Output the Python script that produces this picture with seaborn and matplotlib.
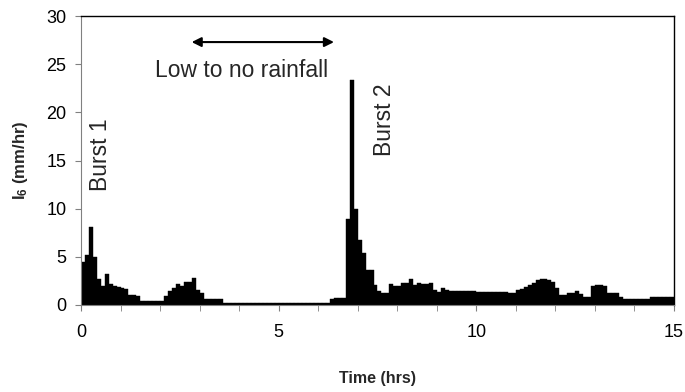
import numpy as np
import pandas as pd
import matplotlib
matplotlib.use("Agg")
import matplotlib.pyplot as plt
import seaborn as sns

# 6-minute (0.1 hr) rainfall intensity
bin_start_hrs = [round(i * 0.1, 1) for i in range(150)]
intensity = [
    4.5, 5.2, 8.1, 5.0, 2.7, 2.0, 3.2, 2.2, 2.0, 1.9,          # 0.0 - 0.9
    1.8, 1.7, 1.0, 1.0, 0.9, 0.45, 0.4, 0.4, 0.4, 0.4,         # 1.0 - 1.9
    0.4, 0.9, 1.4, 1.8, 2.2, 2.0, 2.4, 2.4, 2.8, 1.6,          # 2.0 - 2.9
    1.2, 0.6, 0.6, 0.6, 0.6, 0.6, 0.2, 0.2, 0.2, 0.2,          # 3.0 - 3.9
    0.2, 0.2, 0.2, 0.2, 0.2, 0.2, 0.2, 0.2, 0.2, 0.2,          # 4.0 - 4.9
    0.2, 0.2, 0.2, 0.2, 0.2, 0.2, 0.2, 0.2, 0.2, 0.2,          # 5.0 - 5.9
    0.2, 0.2, 0.2, 0.6, 0.7, 0.7, 0.7, 8.9, 23.4, 10.0,        # 6.0 - 6.9
    6.7, 5.4, 3.6, 3.6, 2.1, 1.5, 1.2, 1.2, 2.2, 2.0,          # 7.0 - 7.9
    2.0, 2.25, 2.25, 2.66, 2.08, 2.3, 2.15, 2.15, 2.25, 1.56,  # 8.0 - 8.9
    1.38, 1.73, 1.56, 1.5, 1.5, 1.5, 1.5, 1.5, 1.5, 1.5,       # 9.0 - 9.9
    1.3, 1.3, 1.3, 1.3, 1.3, 1.3, 1.3, 1.3, 1.2, 1.2,          # 10.0 - 10.9
    1.6, 1.7, 1.9, 2.1, 2.3, 2.6, 2.66, 2.66, 2.6, 2.4,        # 11.0 - 11.9
    1.73, 1.0, 1.0, 1.2, 1.2, 1.5, 1.1, 0.87, 0.87, 2.0,       # 12.0 - 12.9
    2.1, 2.1, 2.0, 1.2, 1.2, 1.2, 0.8, 0.66, 0.66, 0.66,       # 13.0 - 13.9
    0.66, 0.66, 0.66, 0.66, 0.87, 0.87, 0.87, 0.87, 0.87, 0.87 # 14.0 - 14.9
]

df = pd.DataFrame({"t": np.array(bin_start_hrs) + 0.05, "I6": intensity})

sns.set_style("ticks")
plt.rcParams["font.family"] = ["Liberation Sans", "DejaVu Sans"]
plt.rcParams["mathtext.fontset"] = "custom"
plt.rcParams["mathtext.bf"] = "Liberation Sans:bold"
plt.rcParams["mathtext.rm"] = "Liberation Sans"

fig = plt.figure(figsize=(6.85, 3.92), dpi=100)
ax = fig.add_axes([0.1182, 0.222, 0.8657, 0.737])

sns.histplot(data=df, x="t", weights="I6", binwidth=0.1, binrange=(0, 15),
             color="black", edgecolor="black", linewidth=0.3, alpha=1, ax=ax)

ax.set_xlim(0, 15)
ax.set_ylim(0, 30)
ax.set_xticks([0, 5, 10, 15])
ax.set_xticks(np.arange(0, 16, 1), minor=True)
ax.set_yticks(np.arange(0, 31, 5))
ax.tick_params(axis="both", which="both", direction="out", length=4.5,
               color="#808080", labelsize=13, labelcolor="black")
ax.tick_params(axis="x", which="major", pad=9)
ax.tick_params(axis="y", which="major", pad=6)

for side in ["left", "bottom"]:
    ax.spines[side].set_color("#808080")
for side in ["top", "right"]:
    ax.spines[side].set_visible(True)
    ax.spines[side].set_color("black")
    ax.spines[side].set_linewidth(1.0)

ax.set_xlabel("Time (hrs)", fontsize=11.5, fontweight="bold", labelpad=22)
ax.set_ylabel(r"$\mathbf{I_6}$ (mm/hr)", fontsize=12, fontweight="bold", labelpad=12)

ax.text(0.5, 15.6, "Burst 1", rotation=90, ha="center", va="center", fontsize=16.5)
ax.text(7.67, 19.2, "Burst 2", rotation=90, ha="center", va="center", fontsize=16.5)
ax.text(4.06, 24.4, "Low to no rainfall", ha="center", va="center", fontsize=16.5)
ax.annotate("", xy=(2.8, 27.3), xytext=(6.4, 27.3),
            arrowprops=dict(arrowstyle="<|-|>", color="black", lw=1.5,
                            mutation_scale=14, shrinkA=0, shrinkB=0))

fig.savefig("out.png", dpi=100)
